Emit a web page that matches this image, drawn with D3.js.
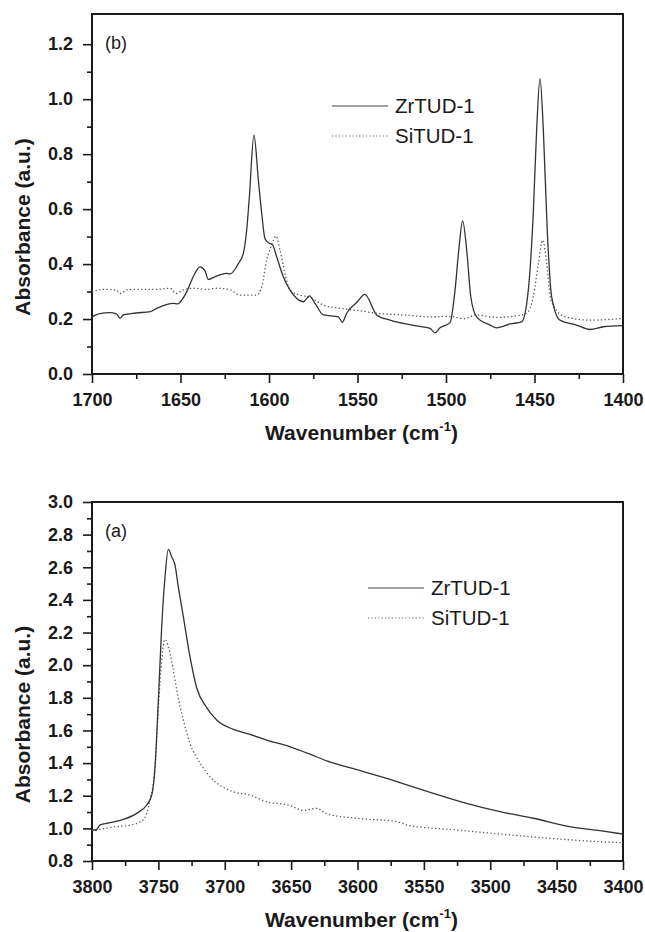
<!DOCTYPE html>
<html>
<head>
<meta charset="utf-8">
<script src="https://cdn.jsdelivr.net/npm/d3@7"></script>
<style>
    body { margin: 0; background: #fff; }
    svg text { font-family: "Liberation Sans", Arial, sans-serif; fill: #1a1a1a; }
    .tick-lbl { font-weight: bold; font-size: 18px; }
    .axis-title { font-weight: bold; font-size: 21px; }
    .legend-lbl { font-size: 20.5px; }
    .panel-lbl { font-size: 18px; }
</style>
</head>
<body>
<div id="chart"></div>
<script>

// ---- panel (b): 1700-1400 cm-1 ----
let topZrWave = [1700, 1695.5, 1690, 1686, 1684.2, 1682.3, 1675, 1667, 1663.4, 1654, 1651.8, 1646.5, 1642.8, 1639,
    1636.2, 1634.3, 1631.5, 1624, 1622, 1617.3, 1614.5, 1612.6, 1611.1, 1608.5, 1606, 1604.1, 1602.3, 1600.4, 1597.9,
    1595.7, 1591.9, 1588.1, 1584.3, 1580.6, 1577.2, 1574, 1569.3, 1560.8, 1558.6, 1556.1, 1550.5, 1545.8, 1539.2,
    1531.6, 1524.1, 1516.6, 1509, 1506.2, 1503.4, 1497.7, 1494.9, 1492.6, 1490.6, 1488.3, 1486, 1482.7, 1475.1,
    1471.4, 1463.8, 1457.2, 1453.5, 1450.7, 1448.8, 1446.9, 1445, 1442.8, 1440.3, 1435.6, 1426.2, 1418.6, 1411.1, 1400];
let topZrAbs = [0.208, 0.22, 0.223, 0.218, 0.203, 0.215, 0.222, 0.227, 0.239, 0.257, 0.255, 0.299, 0.354, 0.39,
    0.376, 0.344, 0.351, 0.366, 0.364, 0.402, 0.439, 0.524, 0.645, 0.869, 0.705, 0.584, 0.493, 0.478, 0.469,
    0.427, 0.354, 0.305, 0.275, 0.263, 0.284, 0.257, 0.215, 0.208, 0.188, 0.221, 0.26, 0.29, 0.215,
    0.196, 0.184, 0.175, 0.166, 0.15, 0.168, 0.187, 0.305, 0.463, 0.557, 0.451, 0.281, 0.208, 0.178,
    0.168, 0.182, 0.19, 0.305, 0.584, 0.887, 1.075, 0.887, 0.524, 0.281, 0.196, 0.178, 0.162, 0.172, 0.176];

let topSiWave = [1700, 1693.6, 1686, 1684.2, 1680, 1674.7, 1663.4, 1656, 1652.5, 1648.4, 1642.8, 1635.2, 1629.6,
    1622, 1616.4, 1607, 1604.1, 1601.3, 1598.5, 1596, 1593.8, 1591, 1588.1, 1582.5, 1576.8, 1569.3, 1559.9, 1548.6,
    1539.2, 1524.1, 1509, 1497.7, 1490.2, 1482.7, 1471.4, 1460, 1454.4, 1450.7, 1447.8, 1445.4, 1443.1, 1440.7,
    1433.7, 1418.6, 1400];
let topSiAbs = [0.299, 0.308, 0.305, 0.293, 0.306, 0.308, 0.308, 0.312, 0.293, 0.306, 0.312, 0.308, 0.312,
    0.306, 0.287, 0.287, 0.318, 0.415, 0.469, 0.502, 0.451, 0.366, 0.305, 0.287, 0.279, 0.251, 0.239, 0.23,
    0.221, 0.215, 0.208, 0.21, 0.201, 0.215, 0.206, 0.212, 0.221, 0.281, 0.402, 0.487, 0.402, 0.269,
    0.211, 0.196, 0.202];

// ---- panel (a): 3800-3400 cm-1 ----
let botZrWave = [3800, 3797, 3794, 3786.4, 3776.4, 3766.3, 3758.8, 3755, 3752.5, 3750, 3747.5, 3745, 3742.5, 3740,
    3737.5, 3735, 3731.2, 3726.2, 3721.1, 3713.6, 3706.1, 3693.6, 3681, 3668.4, 3650.8, 3635.8, 3623.2, 3600.6,
    3575.5, 3560.5, 3542.9, 3517.8, 3492.7, 3467.6, 3442.4, 3417.3, 3400];
let botZrAbs = [0.99, 0.99, 1.021, 1.035, 1.055, 1.092, 1.143, 1.204, 1.378, 1.787, 2.236, 2.542, 2.71, 2.665,
    2.614, 2.481, 2.297, 2.052, 1.86, 1.74, 1.664, 1.607, 1.576, 1.541, 1.5, 1.455, 1.414, 1.36,
    1.3, 1.261, 1.215, 1.153, 1.102, 1.062, 1.014, 0.986, 0.965];

let botSiWave = [3800, 3796.5, 3786.4, 3771.4, 3761.4, 3756.3, 3752.5, 3750, 3747.5, 3745, 3742.5, 3739.2, 3736.2,
    3731.2, 3726.2, 3718.6, 3708.6, 3693.6, 3681, 3668.4, 3650.8, 3640.8, 3630.7, 3623.2, 3600.6, 3570.5, 3560.5,
    3530.4, 3492.7, 3455, 3429.9, 3400];
let botSiAbs = [0.985, 0.99, 1.006, 1.02, 1.051, 1.174, 1.378, 1.745, 2.032, 2.158, 2.113, 1.99, 1.848,
    1.664, 1.521, 1.399, 1.296, 1.225, 1.204, 1.163, 1.14, 1.11, 1.123, 1.088, 1.062, 1.041, 1.016,
    0.994, 0.965, 0.939, 0.924, 0.912];

let seriesNames = ["ZrTUD-1", "SiTUD-1"];
let topXTicks = [1700, 1650, 1600, 1550, 1500, 1450, 1400];
let topYTicks = [0.0, 0.2, 0.4, 0.6, 0.8, 1.0, 1.2];
let botXTicks = [3800, 3750, 3700, 3650, 3600, 3550, 3500, 3450, 3400];
let botYTicks = [0.8, 1.0, 1.2, 1.4, 1.6, 1.8, 2.0, 2.2, 2.4, 2.6, 2.8, 3.0];

let W = 645, H = 932;
let svg = d3.select("#chart").append("svg")
    .attr("width", W)
    .attr("height", H);

function zipSeries(wave, abs){
    return wave.map((w, i) => ({w: w, a: abs[i]}));
}

function drawPanel(p){
    let g = svg.append("g");

    let x = d3.scaleLinear().domain(p.xDomain).range([p.left, p.right]);
    let y = d3.scaleLinear().domain(p.yDomain).range([p.bottom, p.top]);

    // minor ticks first (outward, shorter)
    g.append("g")
        .attr("transform", `translate(0,${p.bottom})`)
        .call(d3.axisBottom(x).tickValues(p.xMinor).tickSize(5).tickFormat(""))
        .call(a => a.select(".domain").remove());
    g.append("g")
        .attr("transform", `translate(${p.left},0)`)
        .call(d3.axisLeft(y).tickValues(p.yMinor).tickSize(5).tickFormat(""))
        .call(a => a.select(".domain").remove());

    // major ticks + labels
    let xAxis = g.append("g")
        .attr("transform", `translate(0,${p.bottom})`)
        .call(d3.axisBottom(x).tickValues(p.xTicks).tickSize(9).tickSizeOuter(0).tickPadding(10).tickFormat(d3.format("d")));
    let yAxis = g.append("g")
        .attr("transform", `translate(${p.left},0)`)
        .call(d3.axisLeft(y).tickValues(p.yTicks).tickSize(9).tickSizeOuter(0).tickPadding(10).tickFormat(d3.format(".1f")));

    [xAxis, yAxis].forEach(a => {
        a.select(".domain").remove();
        a.selectAll("text").attr("class", "tick-lbl").attr("font-size", null).attr("font-family", null);
    });
    g.selectAll(".tick line").attr("stroke", "#1a1a1a").attr("stroke-width", 1.6);

    // frame
    g.append("rect")
        .attr("x", p.left)
        .attr("y", p.top)
        .attr("width", p.right - p.left)
        .attr("height", p.bottom - p.top)
        .attr("fill", "none")
        .attr("stroke", "#1a1a1a")
        .attr("stroke-width", 2);

    let line = d3.line()
        .curve(d3.curveMonotoneX)
        .x(d => x(d.w))
        .y(d => y(d.a));

    g.append("path")
        .datum(p.si)
        .attr("d", line)
        .attr("fill", "none")
        .attr("stroke", "#555")
        .attr("stroke-width", 1.3)
        .attr("stroke-dasharray", "1.3,2.4");

    g.append("path")
        .datum(p.zr)
        .attr("d", line)
        .attr("fill", "none")
        .attr("stroke", "#333")
        .attr("stroke-width", 1.3);

    // axis titles
    let xt = g.append("text")
        .attr("class", "axis-title")
        .attr("x", (p.left + p.right) / 2 + 4)
        .attr("y", p.bottom + 66)
        .attr("text-anchor", "middle")
        .text("Wavenumber (cm");
    xt.append("tspan").attr("font-size", 13).attr("dy", -9).text("-1");
    xt.append("tspan").attr("dy", 9).text(")");

    g.append("text")
        .attr("class", "axis-title")
        .attr("transform", `translate(30,${(p.top + p.bottom) / 2 + 33}) rotate(-90)`)
        .attr("text-anchor", "middle")
        .text("Absorbance (a.u.)");

    // panel label
    g.append("text")
        .attr("class", "panel-lbl")
        .attr("x", p.left + 13)
        .attr("y", p.top + 35)
        .text(p.label);

    // legend
    let legend = g.append("g").attr("transform", `translate(${p.legendX},${p.legendY})`);
    seriesNames.forEach((name, i) => {
        let row = legend.append("g").attr("transform", `translate(0,${i * 30})`);
        row.append("line")
            .attr("x1", 0).attr("x2", 56)
            .attr("y1", 0).attr("y2", 0)
            .attr("stroke", i === 0 ? "#444" : "#666")
            .attr("stroke-width", 1.2)
            .attr("stroke-dasharray", i === 0 ? null : "1.2,2.2");
        row.append("text")
            .attr("class", "legend-lbl")
            .attr("x", 63)
            .attr("y", 7)
            .text(name);
    });
}

drawPanel({
    left: 92, right: 623, top: 14, bottom: 374,
    xDomain: [1700, 1400], yDomain: [0, 1.31],
    xTicks: topXTicks, yTicks: topYTicks,
    xMinor: d3.range(1675, 1400, -50), yMinor: d3.range(0.1, 1.2, 0.2),
    zr: zipSeries(topZrWave, topZrAbs), si: zipSeries(topSiWave, topSiAbs),
    label: "(b)", legendX: 332, legendY: 106
});

drawPanel({
    left: 92, right: 623, top: 502, bottom: 861,
    xDomain: [3800, 3400], yDomain: [0.8, 3.0],
    xTicks: botXTicks, yTicks: botYTicks,
    xMinor: d3.range(3775, 3400, -50), yMinor: d3.range(0.9, 3.0, 0.2),
    zr: zipSeries(botZrWave, botZrAbs), si: zipSeries(botSiWave, botSiAbs),
    label: "(a)", legendX: 368, legendY: 588
});

</script>
</body>
</html>
